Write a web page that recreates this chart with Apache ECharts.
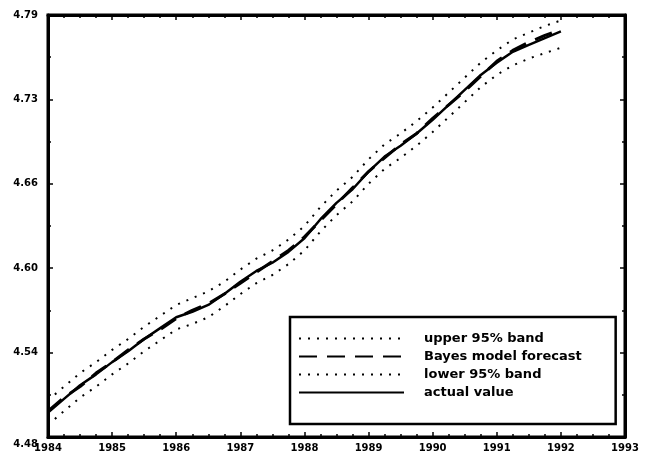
<!DOCTYPE html>
<html>
<head>
<meta charset="utf-8">
<script src="https://cdn.jsdelivr.net/npm/echarts@6/dist/echarts.min.js"></script>
<style>html,body{margin:0;padding:0;background:#fff;}#c{width:655px;height:457px;}</style>
</head>
<body>
<div id="c"></div>
<script>
var dates = [1984.00,1984.25,1984.50,1984.75,1985.00,1985.25,1985.50,1985.75,1986.00,1986.25,1986.50,1986.75,1987.00,1987.25,1987.50,1987.75,1988.00,1988.25,1988.50,1988.75,1989.00,1989.25,1989.50,1989.75,1990.00,1990.25,1990.50,1990.75,1991.00,1991.25,1991.50,1991.75,1992.00];
var upperBand = [4.507,4.517,4.527,4.535,4.544,4.552,4.561,4.569,4.577,4.582,4.587,4.594,4.603,4.611,4.617,4.625,4.635,4.649,4.661,4.671,4.684,4.695,4.703,4.712,4.722,4.733,4.744,4.755,4.764,4.772,4.777,4.782,4.786];
var forecast = [4.499,4.509,4.517,4.527,4.535,4.544,4.552,4.559,4.567,4.573,4.578,4.585,4.593,4.601,4.609,4.617,4.627,4.639,4.651,4.663,4.675,4.685,4.695,4.703,4.714,4.724,4.734,4.745,4.756,4.764,4.770,4.775,4.779];
var lowerBand = [4.489,4.499,4.509,4.517,4.526,4.534,4.543,4.551,4.559,4.563,4.568,4.576,4.585,4.593,4.599,4.607,4.617,4.631,4.643,4.653,4.666,4.677,4.685,4.694,4.704,4.715,4.726,4.737,4.746,4.753,4.758,4.762,4.766];
var actual = [4.498,4.508,4.518,4.526,4.535,4.543,4.552,4.560,4.568,4.572,4.577,4.585,4.594,4.602,4.608,4.616,4.626,4.640,4.652,4.662,4.675,4.686,4.694,4.703,4.713,4.724,4.735,4.746,4.755,4.763,4.768,4.773,4.778];
var yTickLabels = ['4.48','4.54','4.60','4.66','4.73','4.79'];
var xTickLabels = ['1984','1985','1986','1987','1988','1989','1990','1991','1992','1993'];
var seriesNames = ['upper 95% band','Bayes model forecast','lower 95% band','actual value'];

function pairs(vals){ return vals.map(function(v,i){ return [dates[i], v]; }); }

var FONT = 'DejaVu Sans';
var yMin = 4.48, yMax = 4.79, yStep = 0.062;

var axisCommon = {
  axisLine:{show:true,lineStyle:{color:'#000',width:3}},
  axisTick:{show:true,inside:true,length:5,lineStyle:{color:'#000',width:1.5}},
  splitLine:{show:false}
};

var chart = echarts.init(document.getElementById('c'), null, {renderer:'canvas'});
chart.setOption({
  animation:false,
  backgroundColor:'#fff',
  grid:{left:48,right:30,top:15,bottom:20,show:true,borderColor:'#000',borderWidth:3,backgroundColor:'transparent'},
  legend:{
    show:true, orient:'vertical', left:290, top:317,
    data:seriesNames,
    itemWidth:105, itemHeight:14, itemGap:5,
    padding:[15,34,25,8],
    borderColor:'#000', borderWidth:2.5, backgroundColor:'#fff',
    itemStyle:{opacity:0},
    textStyle:{fontFamily:FONT,fontWeight:'bold',fontSize:13,color:'#000',padding:[0,0,0,15]}
  },
  xAxis:[
    Object.assign({type:'value',min:1984,max:1993,interval:1,position:'bottom',
      minorTick:{show:true,splitNumber:4,length:3,lineStyle:{color:'#000',width:1.5}},
      axisLabel:{fontFamily:FONT,fontWeight:'bold',fontSize:10,color:'#000',margin:6,
        formatter:function(v){ return xTickLabels[Math.round(v-1984)]; }}
    }, axisCommon),
    Object.assign({type:'value',min:1984,max:1993,interval:1,position:'top',
      minorTick:{show:true,splitNumber:4,length:3,lineStyle:{color:'#000',width:1.5}},
      axisLabel:{show:false}
    }, axisCommon)
  ],
  yAxis:[
    Object.assign({type:'value',min:yMin,max:yMax,interval:yStep,position:'left',
      minorTick:{show:true,splitNumber:2,length:3,lineStyle:{color:'#000',width:1.5}},
      axisLabel:{fontFamily:FONT,fontWeight:'bold',fontSize:10,color:'#000',margin:10,
        formatter:function(v){ var k=Math.round((v-yMin)/yStep); return k===0 ? '{low|'+yTickLabels[k]+'}' : yTickLabels[k]; },
        rich:{low:{fontFamily:FONT,fontWeight:'bold',fontSize:10,color:'#000',padding:[14,0,0,0]}}}
    }, axisCommon),
    Object.assign({type:'value',min:yMin,max:yMax,interval:yStep,position:'right',
      minorTick:{show:true,splitNumber:2,length:3,lineStyle:{color:'#000',width:1.5}},
      axisLabel:{show:false}
    }, axisCommon)
  ],
  series:[
    {name:seriesNames[0],type:'line',data:pairs(upperBand),symbol:'none',smooth:false,
      lineStyle:{color:'#000',width:2,type:[2,7]},itemStyle:{color:'#000'}},
    {name:seriesNames[1],type:'line',data:pairs(forecast),symbol:'none',
      lineStyle:{color:'#000',width:3,type:[18,10]},itemStyle:{color:'#000'}},
    {name:seriesNames[2],type:'line',data:pairs(lowerBand),symbol:'none',
      lineStyle:{color:'#000',width:2,type:[2,7]},itemStyle:{color:'#000'}},
    {name:seriesNames[3],type:'line',data:pairs(actual),symbol:'none',
      lineStyle:{color:'#000',width:2.5,type:'solid'},itemStyle:{color:'#000'}}
  ]
});
</script>
</body>
</html>
